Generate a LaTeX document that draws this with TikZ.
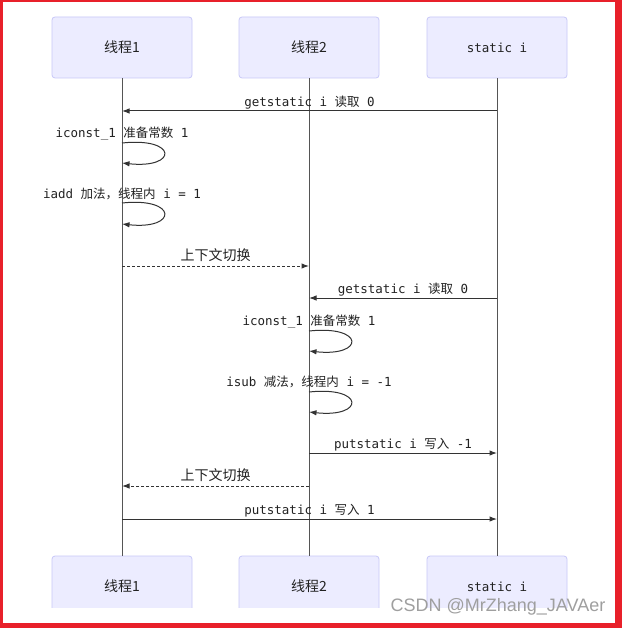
\documentclass[tikz,border=0pt]{standalone}
\usepackage{fontspec}
\usetikzlibrary{arrows.meta}
\newfontfamily\monofnt{DejaVu Sans Mono}
\newfontfamily\cjkfnt{Noto Sans CJK SC}
\newfontfamily\wmfnt{Liberation Sans}
\newcommand\zh[1]{{\cjkfnt #1}}
\definecolor{redb}{HTML}{E8202A}
\definecolor{actorfill}{HTML}{ECECFF}
\definecolor{actorline}{HTML}{C8C8F8}
\definecolor{lifec}{HTML}{555555}
\definecolor{msgc}{HTML}{333333}
\definecolor{txtc}{HTML}{222222}
\begin{document}
\begin{tikzpicture}[x=1pt,y=-1pt,
  actor/.style={draw=actorline, fill=actorfill, line width=0.8pt, rounded corners=3pt,
    minimum width=140pt, minimum height=61pt, inner sep=0pt, text=txtc},
  cjklabel/.style={font=\cjkfnt\fontsize{14}{16}\selectfont},
  monolabel/.style={font=\monofnt\fontsize{12.5}{14}\selectfont},
  life/.style={draw=lifec, line width=1pt},
  msg/.style={draw=msgc, line width=1pt, -{Latex[length=7.5pt,width=5.5pt]}},
  dmsg/.style={msg, dash pattern=on 3pt off 2pt},
  lbl/.style={above, inner sep=1pt, text=txtc, monolabel},
  clbl/.style={above=2.5pt, inner sep=1pt, text=txtc, cjklabel},
  slbl/.style={inner sep=0pt, text=txtc, monolabel},
]
\useasboundingbox (0,0) rectangle (622,628);
\fill[redb] (0,0) rectangle (622,628);
\fill[white] (3,2) rectangle (615,623);

% top actors
\node[actor, cjklabel] (t1) at (122,47.5) {线程1};
\node[actor, cjklabel] (t2) at (309,47.5) {线程2};
\node[actor, monolabel] (t3) at (497,47.5) {static i};

% bottom actors (cut off)
\begin{scope}
\clip (0,540) rectangle (622,607.5);
\node[actor, cjklabel] (b1) at (122,586.5) {线程1};
\node[actor, cjklabel] (b2) at (309,586.5) {线程2};
\node[actor, monolabel] (b3) at (497,586.5) {static i};
\end{scope}

% lifelines
\draw[life] (t1.south) -- (b1.north);
\draw[life] (t2.south) -- (b2.north);
\draw[life] (t3.south) -- (b3.north);

% messages
\draw[msg] (t3 |- 0,111) -- node[lbl] {getstatic i \zh{读取} 0} (t1 |- 0,111);

\node[slbl] (l2) at (t1 |- 0,133.5) {iconst\_1 \zh{准备常数} 1};
\draw[msg] (t1 |- 0,143) .. controls +(56,-6) and +(56,6) .. (t1 |- 0,163);

\node[slbl] (l3) at (t1 |- 0,193.5) {iadd \zh{加法，线程内} i = 1};
\draw[msg] (t1 |- 0,203) .. controls +(56,-6) and +(56,6) .. (t1 |- 0,224);

\draw[dmsg] (t1 |- 0,266) -- node[clbl] {上下文切换} (t2 |- 0,266);

\draw[msg] (t3 |- 0,298) -- node[lbl] {getstatic i \zh{读取} 0} (t2 |- 0,298);

\node[slbl] (l6) at (t2 |- 0,321.5) {iconst\_1 \zh{准备常数} 1};
\draw[msg] (t2 |- 0,331) .. controls +(56,-6) and +(56,6) .. (t2 |- 0,351);

\node[slbl] (l7) at (t2 |- 0,381.5) {isub \zh{减法，线程内} i = -1};
\draw[msg] (t2 |- 0,392) .. controls +(56,-6) and +(56,6) .. (t2 |- 0,412);

\draw[msg] (t2 |- 0,453) -- node[lbl] {putstatic i \zh{写入} -1} (t3 |- 0,453);

\draw[dmsg] (t2 |- 0,486) -- node[clbl] {上下文切换} (t1 |- 0,486);

\draw[msg] (t1 |- 0,519) -- node[lbl] {putstatic i \zh{写入} 1} (t3 |- 0,519);

% watermark
\node[anchor=center, inner sep=0pt, text=gray!75, font=\wmfnt\fontsize{18}{20}\selectfont] (wm) at (498,607) {CSDN @MrZhang\_JAVAer};
\end{tikzpicture}
\end{document}
